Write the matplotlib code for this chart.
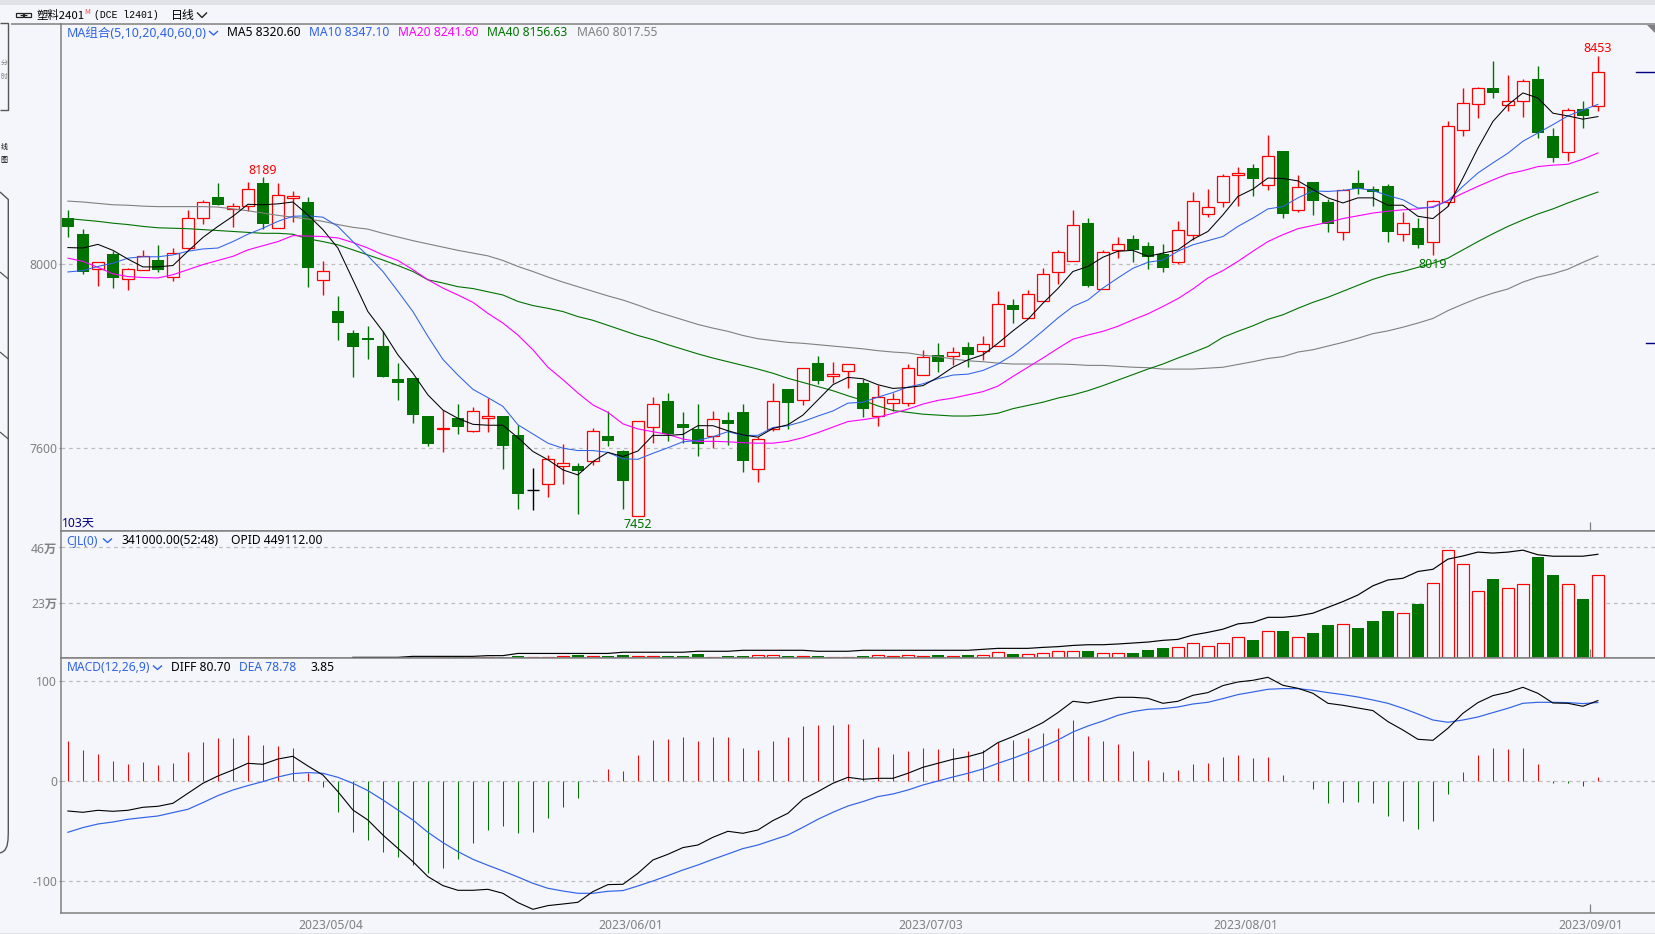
import numpy as np
import matplotlib
matplotlib.use("Agg")
import matplotlib.pyplot as plt
from matplotlib.lines import Line2D
from matplotlib.patches import Polygon, Rectangle

W, H = 1655, 934
BG = "#F5F6FB"
RED = "#FF0000"
GREEN = "#007300"
GREY = "#808080"
BLUE = "#2F62E8"
MAG = "#FF00FF"
NAVY = "#000080"
FONT = ["Noto Sans", "Noto Sans CJK SC"]
CJK = ["Noto Sans CJK SC", "DejaVu Sans"]

open_ = [8101,8066,7989,8022,7967,7987,8009,7972,8036,8100,
         8146,8119,8126,8177,8078,8143,8135,7965,7899,7851,
         7840,7822,7751,7753,7670,7641,7666,7638,7665,7670,
         7629,7510,7522,7561,7562,7572,7627,7594,7452,7647,
         7703,7653,7642,7626,7662,7679,7554,7641,7729,7704,
         7786,7756,7767,7742,7670,7699,7699,7760,7803,7801,
         7820,7812,7823,7912,7884,7921,7982,8006,8090,7945,
         8030,8054,8040,8022,8004,8064,8108,8134,8193,8209,
         8173,8246,8117,8179,8136,8070,8177,8164,8170,8065,
         8079,8049,8136,8291,8349,8383,8345,8354,8403,8279,
         8243,8338,8343]
high = [8118,8077,8004,8028,7992,8031,8042,8036,8118,8140,
        8177,8133,8179,8189,8177,8159,8146,8007,7931,7857,
        7866,7854,7786,7753,7670,7683,7696,7690,7709,7670,
        7651,7557,7586,7609,7568,7643,7680,7596,7659,7712,
        7720,7679,7696,7681,7679,7696,7625,7742,7729,7774,
        7801,7788,7783,7751,7737,7720,7783,7814,7829,7820,
        7831,7844,7942,7925,7944,7992,8031,8118,8101,8030,
        8059,8064,8049,8044,8094,8157,8164,8196,8212,8218,
        8281,8246,8194,8179,8142,8164,8205,8170,8175,8114,
        8101,8140,8312,8383,8385,8442,8412,8402,8431,8296,
        8340,8355,8453]
low = [8059,7979,7953,7949,7944,7987,7984,7964,8033,8088,
       8128,8081,8115,8076,8078,8091,7951,7933,7836,7754,
       7794,7754,7705,7655,7605,7592,7631,7636,7636,7555,
       7468,7466,7494,7522,7457,7564,7605,7468,7452,7612,
       7616,7611,7583,7601,7607,7549,7527,7638,7642,7694,
       7740,7742,7731,7668,7649,7681,7692,7760,7766,7781,
       7777,7792,7823,7872,7884,7921,7957,8006,7951,7945,
       8014,8005,7990,7983,8001,8053,8103,8125,8127,8149,
       8162,8101,8114,8107,8070,8053,8153,8127,8049,8051,
       8036,8019,8127,8279,8318,8362,8333,8320,8275,8222,
       8225,8296,8333]
close = [8081,7984,8004,7969,7989,8017,7988,8024,8100,8135,
         8128,8126,8163,8088,8150,8148,7991,7985,7873,7821,
         7836,7754,7741,7673,7609,7644,7647,7680,7670,7604,
         7501,7510,7576,7567,7551,7637,7616,7529,7659,7696,
         7631,7644,7610,7663,7653,7572,7620,7702,7699,7774,
         7746,7761,7783,7686,7711,7707,7774,7798,7788,7809,
         7803,7826,7913,7901,7935,7978,8026,8085,7953,8026,
         8044,8031,8016,7992,8074,8137,8124,8191,8198,8186,
         8235,8109,8167,8138,8088,8162,8163,8157,8069,8089,
         8042,8137,8300,8350,8383,8372,8354,8398,8286,8231,
         8335,8322,8417]

ma5 = [8036,8035,8043,8030,8011,7994,7994,7997,8028,8058,
       8082,8104,8130,8129,8131,8135,8107,8075,8035,7966,
       7897,7854,7803,7763,7716,7683,7665,7652,7650,7650,
       7623,7593,7575,7553,7542,7571,7591,7582,7594,7628,
       7628,7630,7649,7649,7638,7629,7624,7643,7651,7672,
       7705,7738,7754,7751,7738,7730,7732,7736,7754,7776,
       7792,7803,7828,7855,7880,7915,7947,7984,7995,8015,
       8028,8030,8017,8024,8031,8054,8071,8107,8147,8163,
       8187,8186,8181,8162,8144,8133,8144,8144,8128,8128,
       8104,8099,8125,8187,8252,8310,8346,8372,8361,8328,
       8322,8315,8320.6]
ma10 = [7983,7986,7995,8002,8013,8016,8016,8020,8028,8033,
        8035,8049,8065,8078,8093,8104,8105,8102,8082,8049,
        8018,7984,7941,7897,7843,7793,7759,7728,7710,7691,
        7651,7631,7611,7600,7595,7595,7591,7577,7576,7589,
        7601,7614,7617,7625,7636,7628,7628,7645,7649,7658,
        7670,7681,7698,7700,7711,7721,7733,7740,7751,7759,
        7761,7769,7783,7803,7828,7855,7883,7908,7922,7948,
        7970,7991,8004,8009,8028,8042,8051,8060,8082,8100,
        8120,8125,8144,8159,8158,8160,8165,8160,8149,8140,
        8122,8123,8138,8169,8198,8220,8241,8267,8285,8303,
        8322,8335,8347.1]
ma20 = [8013,8006,7993,7979,7973,7971,7970,7977,7988,7999,
        8008,8017,8031,8040,8049,8062,8061,8060,8057,8047,
        8035,8020,8008,7988,7966,7948,7933,7917,7893,7872,
        7846,7814,7776,7749,7720,7694,7678,7653,7642,7636,
        7630,7620,7615,7615,7614,7612,7611,7611,7615,7623,
        7634,7646,7658,7662,7667,7676,7685,7696,7704,7709,
        7716,7723,7735,7756,7776,7796,7817,7837,7846,7854,
        7865,7879,7892,7908,7925,7946,7970,7986,8006,8028,
        8049,8064,8077,8084,8091,8099,8105,8111,8115,8118,
        8120,8125,8138,8154,8169,8183,8196,8203,8212,8215,
        8217,8228,8241.6]
ma40 = [8099,8096,8093,8089,8086,8082,8079,8078,8077,8075,
        8073,8071,8069,8067,8067,8065,8055,8049,8042,8031,
        8020,8009,7997,7984,7966,7959,7951,7947,7940,7933,
        7919,7910,7904,7897,7886,7878,7867,7856,7845,7836,
        7825,7815,7805,7796,7788,7780,7772,7763,7752,7743,
        7734,7725,7714,7704,7692,7682,7678,7674,7672,7670,
        7670,7672,7676,7686,7693,7700,7709,7716,7725,7736,
        7748,7760,7772,7783,7796,7808,7821,7841,7854,7866,
        7880,7890,7904,7917,7928,7941,7954,7967,7977,7984,
        7993,8002,8013,8031,8049,8066,8082,8096,8109,8120,
        8133,8145,8156.6]
ma60 = [8137,8135,8132,8129,8128,8126,8125,8125,8125,8125,
        8124,8120,8116,8111,8106,8102,8098,8093,8086,8080,
        8076,8067,8059,8051,8044,8037,8030,8024,8018,8008,
        7995,7984,7972,7961,7951,7941,7931,7922,7911,7899,
        7889,7879,7869,7861,7854,7845,7838,7834,7830,7828,
        7825,7822,7819,7816,7812,7809,7807,7802,7799,7794,
        7790,7788,7785,7783,7783,7783,7783,7782,7780,7780,
        7778,7776,7775,7772,7772,7772,7774,7776,7782,7788,
        7795,7799,7809,7814,7822,7830,7839,7849,7855,7863,
        7872,7882,7899,7913,7926,7937,7946,7961,7972,7979,
        7989,8004,8017.6]

# volume and open interest in units of 10 000 lots; the first bars are too small to show
volume = [0,0,0,0,0,0,0,0,0,0,
          0,0,0,0,0,0,0,0,0,0,
          0,0,0,0,0,0.8,0.8,0.8,0.8,0.8,
          1.2,0.7,0.7,1.2,1.7,1.2,1.2,1.7,1.2,1.2,
          1.2,1.2,2.1,0.8,1.2,1.2,1.7,1.7,1.2,1.2,
          1.2,0.8,0.8,1.2,1.5,1.1,1.5,1.1,1.7,1.1,
          1.7,1.5,2.8,2.1,1.9,2.3,3.2,3.2,3.3,2.3,
          2.3,2.5,3.7,4.5,4.8,6.5,5.2,6.5,9.0,7.8,
          11.4,11.6,9.0,10.7,14.0,14.3,12.8,15.7,19.8,18.9,
          22.7,31.3,44.9,39.1,28.0,33.0,29.2,30.8,42.1,34.7,
          30.8,24.8,34.6]
oi_start = 19
open_interest = [0.7,0.7,0.7,0.7,1.1,1.1,1.1,1.1,1.1,1.4,
                 1.4,2.3,2.3,2.3,2.3,2.3,2.3,2.3,2.8,2.8,
                 2.8,2.8,2.8,3.2,3.2,3.2,3.6,3.6,3.6,3.6,
                 3.6,3.2,3.2,3.2,3.6,3.6,3.6,3.6,3.6,3.6,
                 3.6,3.6,4.0,4.4,4.4,4.4,4.8,5.1,5.6,5.9,
                 5.9,6.2,6.6,7.0,7.7,8.1,9.9,11.0,12.3,14.5,
                 15.1,17.2,17.2,17.8,18.9,21.3,23.7,26.4,30.2,32.6,
                 33.3,36.1,37.0,41.2,42.5,44.1,43.7,44.1,44.9,43.0,
                 42.4,42.4,42.4,43.2]

diff = [-29.7,-31,-29,-30,-29,-26,-25,-22,-12,-2,
        5.3,11.3,18,17,22.3,25,15.3,6.3,-10.3,-28.7,
        -38.7,-53.7,-67,-80.3,-95.3,-104.3,-109,-109,-108,-112,
        -121.3,-128,-124.3,-122.7,-121,-110.3,-103.3,-103,-92,-78.7,
        -73,-66.3,-63.7,-56,-50,-52,-48.7,-39.3,-32,-18,
        -10.3,-2,4,2,3,3,8,14,18,22,
        24.7,28.7,38.7,44.7,51.3,58.7,68.7,80,78.3,81.3,
        84,84,83,78,80,86,88.7,95.7,99.3,101,
        104,96,93,88,78,76,73.3,70.7,59.7,51.3,
        42,41,53,68,78.7,85.7,89,94,88,78.3,
        78,75,80.7]
dea = [-51,-46.3,-42.7,-40.7,-38,-36.3,-34.7,-31.3,-28,-21.3,
       -14.3,-8.7,-4.3,-0.3,4.3,7.7,8.7,8,4,-2,
       -9.3,-18.7,-28.7,-38.7,-51,-61.3,-70.3,-78,-84,-89.7,
       -95.7,-102,-107,-109.7,-112,-112,-110,-109.3,-104.7,-99.7,
       -94.3,-88.7,-83.7,-78,-72.7,-67.3,-63.7,-58.7,-53.7,-46,
       -38,-31,-24.7,-20.3,-15.3,-12.7,-8.7,-3.7,0.3,4.3,
       8,12.3,18,23,28.7,34.7,41.3,49.3,55.3,60.3,
       66,69.7,72,72.7,74.3,77.3,79,82.7,86.7,89.3,
       92,92.7,92.7,91,88.7,86.7,84.3,81.3,78,73,
       67.3,61.3,59,61.3,64.3,68.7,73,78,79,79,
       78.7,77.7,78.78]
macd = [40.3,31.3,27.3,20.3,17.3,19.3,16.3,18.3,29.3,39.3,
        43.3,43.3,46.3,36.3,35.3,33.3,8,-5.3,-30.7,-50.7,
        -58.7,-70.7,-75.7,-83.7,-91.7,-86.7,-77.7,-61.7,-48.7,-44.7,
        -51.7,-50.7,-36.7,-25.7,-16.7,1.3,12.3,10.3,26.3,41.3,
        42.3,44.3,40.3,44.3,44.3,33.3,31.3,40.3,44.3,55.3,
        56.3,56.3,57.3,42.3,34.3,27.3,30.3,33.3,32.3,33.3,
        30.3,31.3,39.3,41.3,43.3,48.3,53.3,61.3,45.3,40.3,
        37.3,30.3,21.3,9.3,11.3,17.3,18.3,24.3,26.3,23.3,
        24.3,6.3,0.3,-7.7,-21.7,-20.7,-20.7,-21.7,-34.7,-39.7,
        -47.7,-39.7,-12.7,9.3,26.3,33.3,32.3,33.3,17.3,-1.7,
        -1.7,-4.7,3.85]

date_pos = [17.5, 37.5, 57.5, 78.5, 101.5]
date_labels = ["2023/05/04", "2023/06/01", "2023/07/03", "2023/08/01", "2023/09/01"]
price_ticks = [7600, 8000]
vol_ticks = [23, 46]
vol_tick_labels = ["23万", "46万"]
macd_ticks = [-100, 0, 100]
last_price = 8417
second_mark = 7829

n = len(close)
x = np.arange(n)
o, h, l, c = map(np.array, (open_, high, low, close))
up = c > o
flat = c == o
down = c < o

fig = plt.figure(figsize=(W / 100, H / 100), dpi=100, facecolor=BG)


def rect(top, bottom, left=61.4, right=W):
    return [left / W, 1 - bottom / H, (right - left) / W, (bottom - top) / H]


def fx(px):
    return px / W


def fy(py):
    return 1 - py / H


ax1 = fig.add_axes(rect(24.3, 531.0))
ax2 = fig.add_axes(rect(531.0, 658.3))
ax3 = fig.add_axes(rect(658.3, 913.0))
xlim = ((61.4 - 67.9) / 15, (W - 67.9) / 15)
for ax in (ax1, ax2, ax3):
    ax.set_facecolor(BG)
    ax.set_xlim(*xlim)
    ax.spines["right"].set_visible(False)
    for s in ("left", "top", "bottom"):
        ax.spines[s].set_color(GREY)
        ax.spines[s].set_linewidth(1.1)
    ax.tick_params(axis="y", length=1.6, width=0.8, color=GREY, pad=1.5,
                   labelsize=8.8, labelcolor=GREY)
    ax.set_xticks([])
ax1.set_ylim(7420.2, 8521.1)
ax2.set_ylim(0.3, 52.8)
ax3.set_ylim(-131.7, 123)

GRID = dict(color="#BDBDBD", lw=0.9, ls=(0, (3, 3)), zorder=0.5)
for ax, ticks, labels in ((ax1, price_ticks, [str(t) for t in price_ticks]),
                          (ax2, vol_ticks, vol_tick_labels),
                          (ax3, macd_ticks, [str(t) for t in macd_ticks])):
    ax.set_yticks(ticks, labels)
    for t in ticks:
        ax.axhline(t, **GRID)
    for lab in ax.get_yticklabels():
        lab.set_family(FONT)
        lab.set_fontweight("bold")

# candlesticks
BW = 0.79
ax1.vlines(x[up], l[up], h[up], color=RED, lw=1.0, zorder=1)
ax1.vlines(x[down], l[down], h[down], color=GREEN, lw=1.0, zorder=1)
ax1.vlines(x[flat], l[flat], h[flat], color="black", lw=1.0, zorder=1)
ax1.hlines(c[flat], x[flat] - BW / 2, x[flat] + BW / 2, color="black", lw=1.0, zorder=2)
ax1.bar(x[up], (c - o)[up], bottom=o[up], width=BW, facecolor=BG, edgecolor=RED, lw=0.9, zorder=2)
ax1.bar(x[down], (o - c)[down], bottom=c[down], width=BW + 0.05, facecolor=GREEN, edgecolor=GREEN, lw=0, zorder=2)

for series, col, lw in ((ma60, GREY, 0.8), (ma40, GREEN, 0.8), (ma20, MAG, 0.8),
                        (ma10, BLUE, 0.75), (ma5, "black", 0.75)):
    ax1.plot(x, series, color=col, lw=lw, zorder=3)

ann = dict(textcoords="offset pixels", ha="center", va="center", fontsize=9.0, family=FONT, zorder=4)
ax1.annotate("8189", (13, high[13]), xytext=(0, 7), color=RED, **ann)
ax1.annotate("8453", (102, high[102]), xytext=(0, 7), color=RED, **ann)
ax1.annotate("7452", (38, low[38]), xytext=(0, -8), color=GREEN, **ann)
ax1.annotate("8019", (91, low[91]), xytext=(0, -9), color=GREEN, **ann)
ax1.plot([(1636 - 67.9) / 15, xlim[1]], [last_price, last_price], color=NAVY, lw=1.0, zorder=3)
ax1.plot([(1646 - 67.9) / 15, xlim[1]], [second_mark, second_mark], color=NAVY, lw=1.0, zorder=3)

# volume panel
vol = np.array(volume)
vis = vol > 0
vu = vis & (c >= o)
vd = vis & (c < o)
ax2.bar(x[vu], vol[vu], bottom=0, width=BW, facecolor=BG, edgecolor=RED, lw=0.85, zorder=2)
ax2.bar(x[vd], vol[vd], bottom=0, width=BW + 0.05, facecolor=GREEN, edgecolor=GREEN, lw=0, zorder=2)
ax2.plot(np.arange(oi_start, n), open_interest, color="black", lw=0.85, zorder=3)

# MACD panel
m = np.array(macd)
ax3.vlines(x[m >= 0], 0, m[m >= 0], color=RED, lw=0.75, zorder=1)
ax3.vlines(x[m < 0], 0, m[m < 0], color=GREEN, lw=0.75, zorder=1)
ax3.plot(x, dea, color=BLUE, lw=0.85, zorder=3)
ax3.plot(x, diff, color="black", lw=0.8, zorder=4)
ax3.set_xticks(date_pos, date_labels)
ax3.tick_params(axis="x", length=0, pad=4.0, labelsize=8.8, labelcolor=GREY)
for lab in ax3.get_xticklabels():
    lab.set_family(FONT)

# cursor tick at the last date
for ax, a, b in ((ax1, 0, 0.018), (ax2, 0, 0.073), (ax3, 0, 0.035)):
    ax.vlines(101.5, a, b, transform=ax.get_xaxis_transform(), color=GREY, lw=0.9, zorder=5)


def ftext(px, py, s, color="black", size=8.7, family=FONT, ha="left", **kw):
    fig.text(fx(px), fy(py), s, color=color, fontsize=size, family=family, ha=ha, va="center", **kw)


def fline(xs, ys, color=GREY, lw=1.0):
    fig.add_artist(Line2D([fx(v) for v in xs], [fy(v) for v in ys], color=color, lw=lw,
                          transform=fig.transFigure, solid_capstyle="butt"))


def chevron(px, py, color, w=9, hh=4):
    fline([px, px + w / 2, px + w], [py - hh / 2, py + hh / 2, py - hh / 2], color=color, lw=1.0)


# window bands
fig.add_artist(Rectangle((0, fy(4.7)), 1, 4.7 / H, transform=fig.transFigure, facecolor="#E1E2E7", edgecolor="none"))
fig.add_artist(Rectangle((0, 0), 1, 1.5 / H, transform=fig.transFigure, facecolor="#E1E2E7", edgecolor="none"))
fig.add_artist(Polygon([(fx(1647), fy(24.5)), (fx(W), fy(24.5)), (fx(W), fy(33))], closed=True,
                       transform=fig.transFigure, facecolor=GREY, edgecolor="none"))

# header line
fline([11, 61.4], [24.3, 24.3], lw=1.1)
for bx in (15.5, 24):
    fig.add_artist(Rectangle((fx(bx), fy(17.2)), 7 / W, 4.4 / H, transform=fig.transFigure,
                             facecolor="none", edgecolor="#222222", lw=0.9))
fline([20, 27], [15, 15], color="#222222", lw=0.9)
ftext(36, 15, "塑料2401", size=8.2, family=CJK)
ftext(84, 12.5, "M", color="#F05050", size=5.2, family=CJK)
ftext(94, 15, "(DCE l2401)", size=7.0, family=["Liberation Mono", "DejaVu Sans Mono"])
ftext(171, 15, "日线", size=8.6, family=CJK)
chevron(197, 15, "#222222", w=10, hh=5)

# MA legend
ftext(66.8, 33.8, "MA组合(5,10,20,40,60,0)", color=BLUE, size=9.0)
chevron(209, 33, BLUE)
ftext(227, 33.0, "MA5 8320.60")
ftext(309, 33.0, "MA10 8347.10", color=BLUE)
ftext(398, 33.0, "MA20 8241.60", color=MAG)
ftext(487, 33.0, "MA40 8156.63", color=GREEN)
ftext(576.7, 33.0, "MA60 8017.55", color=GREY)
ftext(62, 523, "103天", color=NAVY, size=8.8)

# volume legend
ftext(66.7, 540.5, "CJL(0)", color=BLUE)
chevron(103, 540.5, BLUE)
ftext(121, 540.5, "341000.00(52:48)")
ftext(231, 540.5, "OPID 449112.00")

# MACD legend
ftext(66.7, 667.5, "MACD(12,26,9)", color=BLUE)
chevron(153, 667.5, BLUE)
ftext(171, 667.5, "DIFF 80.70")
ftext(239, 667.5, "DEA 78.78", color=BLUE)
ftext(310, 667.5, "3.85")

# clipped side tabs
TAB = "#555555"
fline([0, 8.3, 8.3, 0], [23.3, 23.3, 110, 110], color=TAB, lw=1.0)
fline([0, 8.3, 8.3], [192, 199.5, 833], color=TAB, lw=1.0)
fline([0, 8.3], [272, 279], color=TAB, lw=0.9)
fline([0, 8.3], [352, 359], color=TAB, lw=0.9)
fline([0, 8.3], [432, 439], color=TAB, lw=0.9)
tx = np.array([8.3, 8.0, 7.0, 5.0, 2.5, 0])
ty = np.array([833, 840, 846, 850, 852, 853])
fline(tx, ty, color=TAB, lw=1.0)
ftext(4, 63, "分", color=GREY, size=5.0, family=CJK, ha="center")
ftext(4, 77, "时", color=GREY, size=5.0, family=CJK, ha="center")
ftext(4, 147, "线", color="black", size=5.0, family=CJK, ha="center")
ftext(4, 160, "图", color="black", size=5.0, family=CJK, ha="center")

fig.savefig("out.png", dpi=100, facecolor=BG)
